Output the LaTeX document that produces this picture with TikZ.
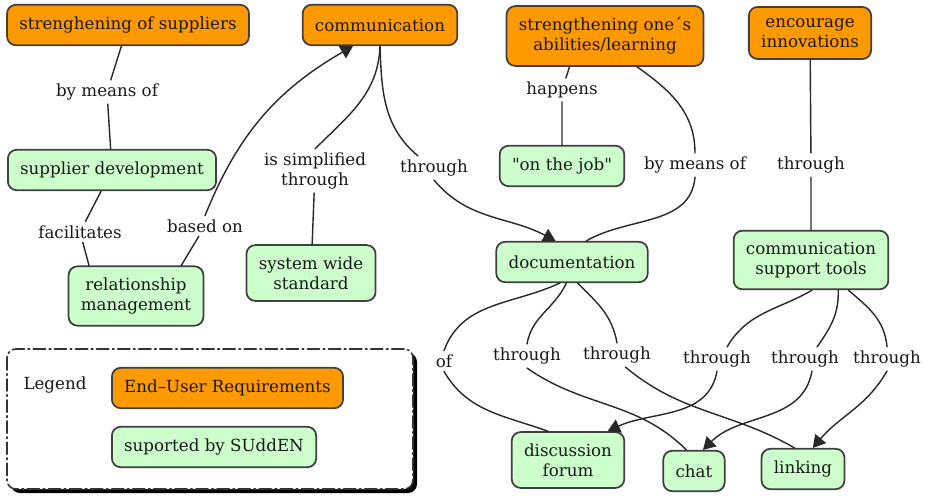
\documentclass[tikz,border=0pt]{standalone}
\usepackage{fontspec}
\setmainfont{DejaVu Serif}
\newfontfamily\quotefont{DejaVu Serif}[Ligatures=TeXOff]
\usetikzlibrary{arrows.meta}
\definecolor{reqorange}{RGB}{255,153,0}
\definecolor{supgreen}{RGB}{204,255,204}
\definecolor{edgegray}{RGB}{40,40,40}
\begin{document}
\begin{tikzpicture}[x=0.02cm,y=0.02cm,line join=round,line cap=round,
	font=\fontsize{9.5}{11.4}\selectfont,
	>={Triangle[length=7pt,width=8pt]},
	box/.style={draw=black!75,line width=1pt,rounded corners=5pt,align=center,
		inner xsep=7pt,inner ysep=6.5pt,minimum height=23pt,text=black!90},
	req/.style={box,fill=reqorange},
	sup/.style={box,fill=supgreen},
	lbl/.style={inner sep=2pt,align=center,text=black!90},
	link/.style={draw=edgegray,line width=0.8pt}]
	\useasboundingbox (0,0) rectangle (929,-496);
	% legend frame with shadow
	\fill[black,rounded corners=5pt] (11,-353) rectangle (417,-493);
	\draw[black!80,line width=0.9pt,fill=white,rounded corners=5pt,
		dash pattern=on 7pt off 2pt on 1pt off 2pt] (7,-349) rectangle (413,-489);
	\node[lbl] (leg) at (55,-385) {Legend};
	\node[req,anchor=west] (legreq) at (111,-388) {End–User Requirements};
	\node[sup,anchor=west] (legsup) at (111,-447) {suported by SUddEN};
	% requirements
	\node[req] (supp) at (128,-25) {strenghening of suppliers};
	\node[req] (comm) at (380,-25) {communication};
	\node[req] (learn) at (605,-36) {strengthening one´s\\abilities/learning};
	\node[req] (innov) at (810,-33) {encourage\\innovations};
	% concepts
	\node[sup] (suppdev) at (112,-170) {supplier development};
	\node[sup] (job) at (562,-166) {{\quotefont "on the job"}};
	\node[sup] (relman) at (136,-296) {relationship\\management};
	\node[sup] (sysstd) at (311,-273) {system wide\\standard};
	\node[sup] (doc) at (572,-262) {documentation};
	\node[sup] (cst) at (811,-260) {communication\\support tools};
	\node[sup] (forum) at (568,-460) {discussion\\forum};
	\node[sup] (chat) at (694,-471) {chat};
	\node[sup] (linking) at (803,-469) {linking};
	% linking phrases
	\node[lbl] (l1) at (107,-92) {by means of};
	\node[lbl] (l2) at (80,-232) {facilitates};
	\node[lbl] (l3) at (205,-226) {based on};
	\node[lbl] (l4) at (315,-171) {is simplified\\through};
	\node[lbl] (l5) at (434,-168) {through};
	\node[lbl] (l6) at (562,-90) {happens};
	\node[lbl] (l7) at (695,-165) {by means of};
	\node[lbl] (l8) at (811,-165) {through};
	\node[lbl] (l9) at (444,-361) {of};
	\node[lbl] (l10) at (527,-356) {through};
	\node[lbl] (l11) at (617,-355) {through};
	\node[lbl] (l12) at (717,-359) {through};
	\node[lbl] (l13) at (805,-359) {through};
	\node[lbl] (l14) at (887,-359) {through};
	% connectors, left part
	\draw[link] (supp) -- (l1) -- (suppdev);
	\draw[link] (suppdev) -- (l2) -- (relman.147);
	\draw[link] (relman.34) -- (l3);
	\draw[link,->] (l3.north) to[out=68,in=210] (comm.218);
	\draw[link] (comm.south) to[out=-92,in=45] (l4.north);
	\draw[link] (l4) -- (sysstd);
	\draw[link] (comm.south) to[out=-88,in=140] (l5.143);
	\draw[link,->] (l5.south) to[out=-50,in=152] (doc.128);
	% connectors, right part
	\draw[link] (learn.221) -- (l6) -- (job);
	\draw[link] (learn.316) to[out=-35,in=90] (l7.north);
	\draw[link] (l7.south) to[out=-95,in=30] (doc.56);
	\draw[link] (innov) -- (l8) -- (cst);
	% documentation and tools
	\draw[link] (doc.240) to[out=-155,in=70] (l9.north);
	\draw[link] (l9.south) to[out=-60,in=160] (forum.125);
	\draw[link] (doc.255) to[out=-115,in=80] (l10.north);
	\draw[link] (l10.south) to[out=-35,in=135] (chat.110);
	\draw[link] (doc.285) to[out=-45,in=100] (l11.north);
	\draw[link] (l11.-55) to[out=-40,in=150] (linking.112);
	\draw[link] (cst.272) to[out=-150,in=60] (l12.50);
	\draw[link,->] (l12.south) to[out=-100,in=25] (forum.36);
	\draw[link] (cst.312) to[out=-88,in=55] (l13.45);
	\draw[link,->] (l13.-60) to[out=-100,in=45] (chat.67);
	\draw[link] (cst.321) to[out=-40,in=95] (l14.north);
	\draw[link,->] (l14.south) to[out=-120,in=50] (linking.65);
\end{tikzpicture}
\end{document}
